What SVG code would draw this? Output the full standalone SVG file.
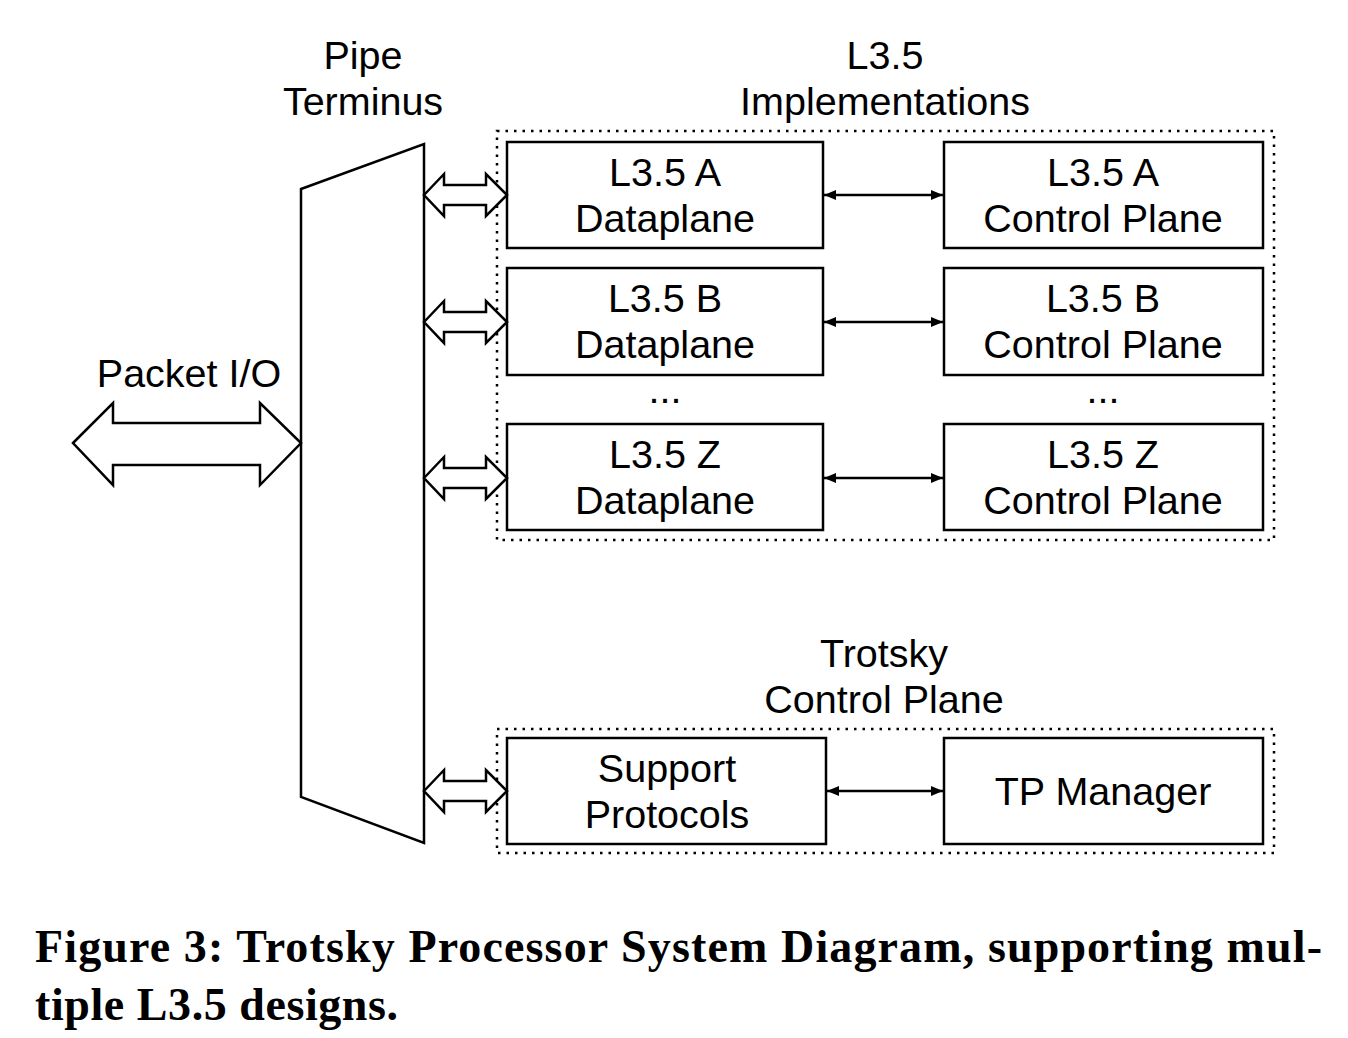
<svg xmlns="http://www.w3.org/2000/svg" width="1348" height="1038" viewBox="0 0 1348 1038">
<style>
.t{font-family:"Liberation Sans",Arial,sans-serif;font-size:39.5px;fill:#000;text-anchor:middle}
.cap{font-family:"Liberation Serif","Times New Roman",serif;font-size:46px;font-weight:bold;fill:#000}
.box{fill:#fff;stroke:#000;stroke-width:2.5}
.dot{fill:none;stroke:#000;stroke-width:2.5;stroke-dasharray:2.5 6}
.fat{fill:#fff;stroke:#000;stroke-width:2.5;stroke-linejoin:miter}
.thin{stroke:#000;stroke-width:2.5;marker-start:url(#ah);marker-end:url(#ah)}
</style>
<defs>
<marker id="ah" viewBox="0 0 12 10" refX="12" refY="5" markerWidth="12" markerHeight="10" markerUnits="userSpaceOnUse" orient="auto-start-reverse">
<path d="M0,0 L12,5 L0,10 z" fill="#000"/>
</marker>
</defs>
<rect width="1348" height="1038" fill="#fff"/>
<g id="groups">
<rect class="dot" x="497" y="131" width="777" height="409"/>
<rect class="dot" x="497" y="729" width="777" height="124"/>
</g>
<g id="labels">
<text class="t" x="363" y="69">Pipe</text>
<text class="t" x="363" y="115">Terminus</text>
<text class="t" x="885" y="69">L3.5</text>
<text class="t" x="885" y="115">Implementations</text>
<text class="t" x="189" y="387">Packet I/O</text>
<text class="t" x="884" y="667">Trotsky</text>
<text class="t" x="884" y="713">Control Plane</text>
<text class="t" x="665" y="403">...</text>
<text class="t" x="1103" y="403">...</text>
</g>
<g id="pipe-terminus">
<polygon class="box" points="301,189 424,144 424,843 301,797"/>
</g>
<g id="a-dataplane"><rect class="box" x="507" y="142" width="316" height="106"/><text class="t" x="665" y="186">L3.5 A</text><text class="t" x="665" y="232">Dataplane</text></g>
<g id="a-control"><rect class="box" x="944" y="142" width="319" height="106"/><text class="t" x="1103" y="186">L3.5 A</text><text class="t" x="1103" y="232">Control Plane</text></g>
<g id="b-dataplane"><rect class="box" x="507" y="268" width="316" height="107"/><text class="t" x="665" y="312">L3.5 B</text><text class="t" x="665" y="358">Dataplane</text></g>
<g id="b-control"><rect class="box" x="944" y="268" width="319" height="107"/><text class="t" x="1103" y="312">L3.5 B</text><text class="t" x="1103" y="358">Control Plane</text></g>
<g id="z-dataplane"><rect class="box" x="507" y="424" width="316" height="106"/><text class="t" x="665" y="468">L3.5 Z</text><text class="t" x="665" y="514">Dataplane</text></g>
<g id="z-control"><rect class="box" x="944" y="424" width="319" height="106"/><text class="t" x="1103" y="468">L3.5 Z</text><text class="t" x="1103" y="514">Control Plane</text></g>
<g id="support"><rect class="box" x="507" y="738" width="319" height="106"/><text class="t" x="667" y="782">Support</text><text class="t" x="667" y="828">Protocols</text></g>
<g id="tp-manager"><rect class="box" x="944" y="738" width="319" height="106"/><text class="t" x="1103" y="805">TP Manager</text></g>
<g id="connectors">
<polygon class="fat" points="73,443 113,403 113,423 260,423 260,403 301,443 260,485 260,465 113,465 113,485"/>
<polygon class="fat" points="424,195 444,174 444,185 486,185 486,174 507,195 486,216 486,205 444,205 444,216"/>
<polygon class="fat" points="424,322 444,301 444,312 486,312 486,301 507,322 486,343 486,332 444,332 444,343"/>
<polygon class="fat" points="424,478 444,457 444,468 486,468 486,457 507,478 486,499 486,488 444,488 444,499"/>
<polygon class="fat" points="424,791 444,770 444,781 486,781 486,770 507,791 486,812 486,801 444,801 444,812"/>
<line class="thin" x1="824" y1="195" x2="943" y2="195"/>
<line class="thin" x1="824" y1="322" x2="943" y2="322"/>
<line class="thin" x1="824" y1="478" x2="943" y2="478"/>
<line class="thin" x1="827" y1="791" x2="943" y2="791"/>
</g>
<g id="caption">
<text class="cap" x="35" y="962" textLength="1287" lengthAdjust="spacing">Figure 3: Trotsky Processor System Diagram, supporting mul-</text>
<text class="cap" x="35" y="1020" textLength="363" lengthAdjust="spacing">tiple L3.5 designs.</text>
</g>
</svg>
